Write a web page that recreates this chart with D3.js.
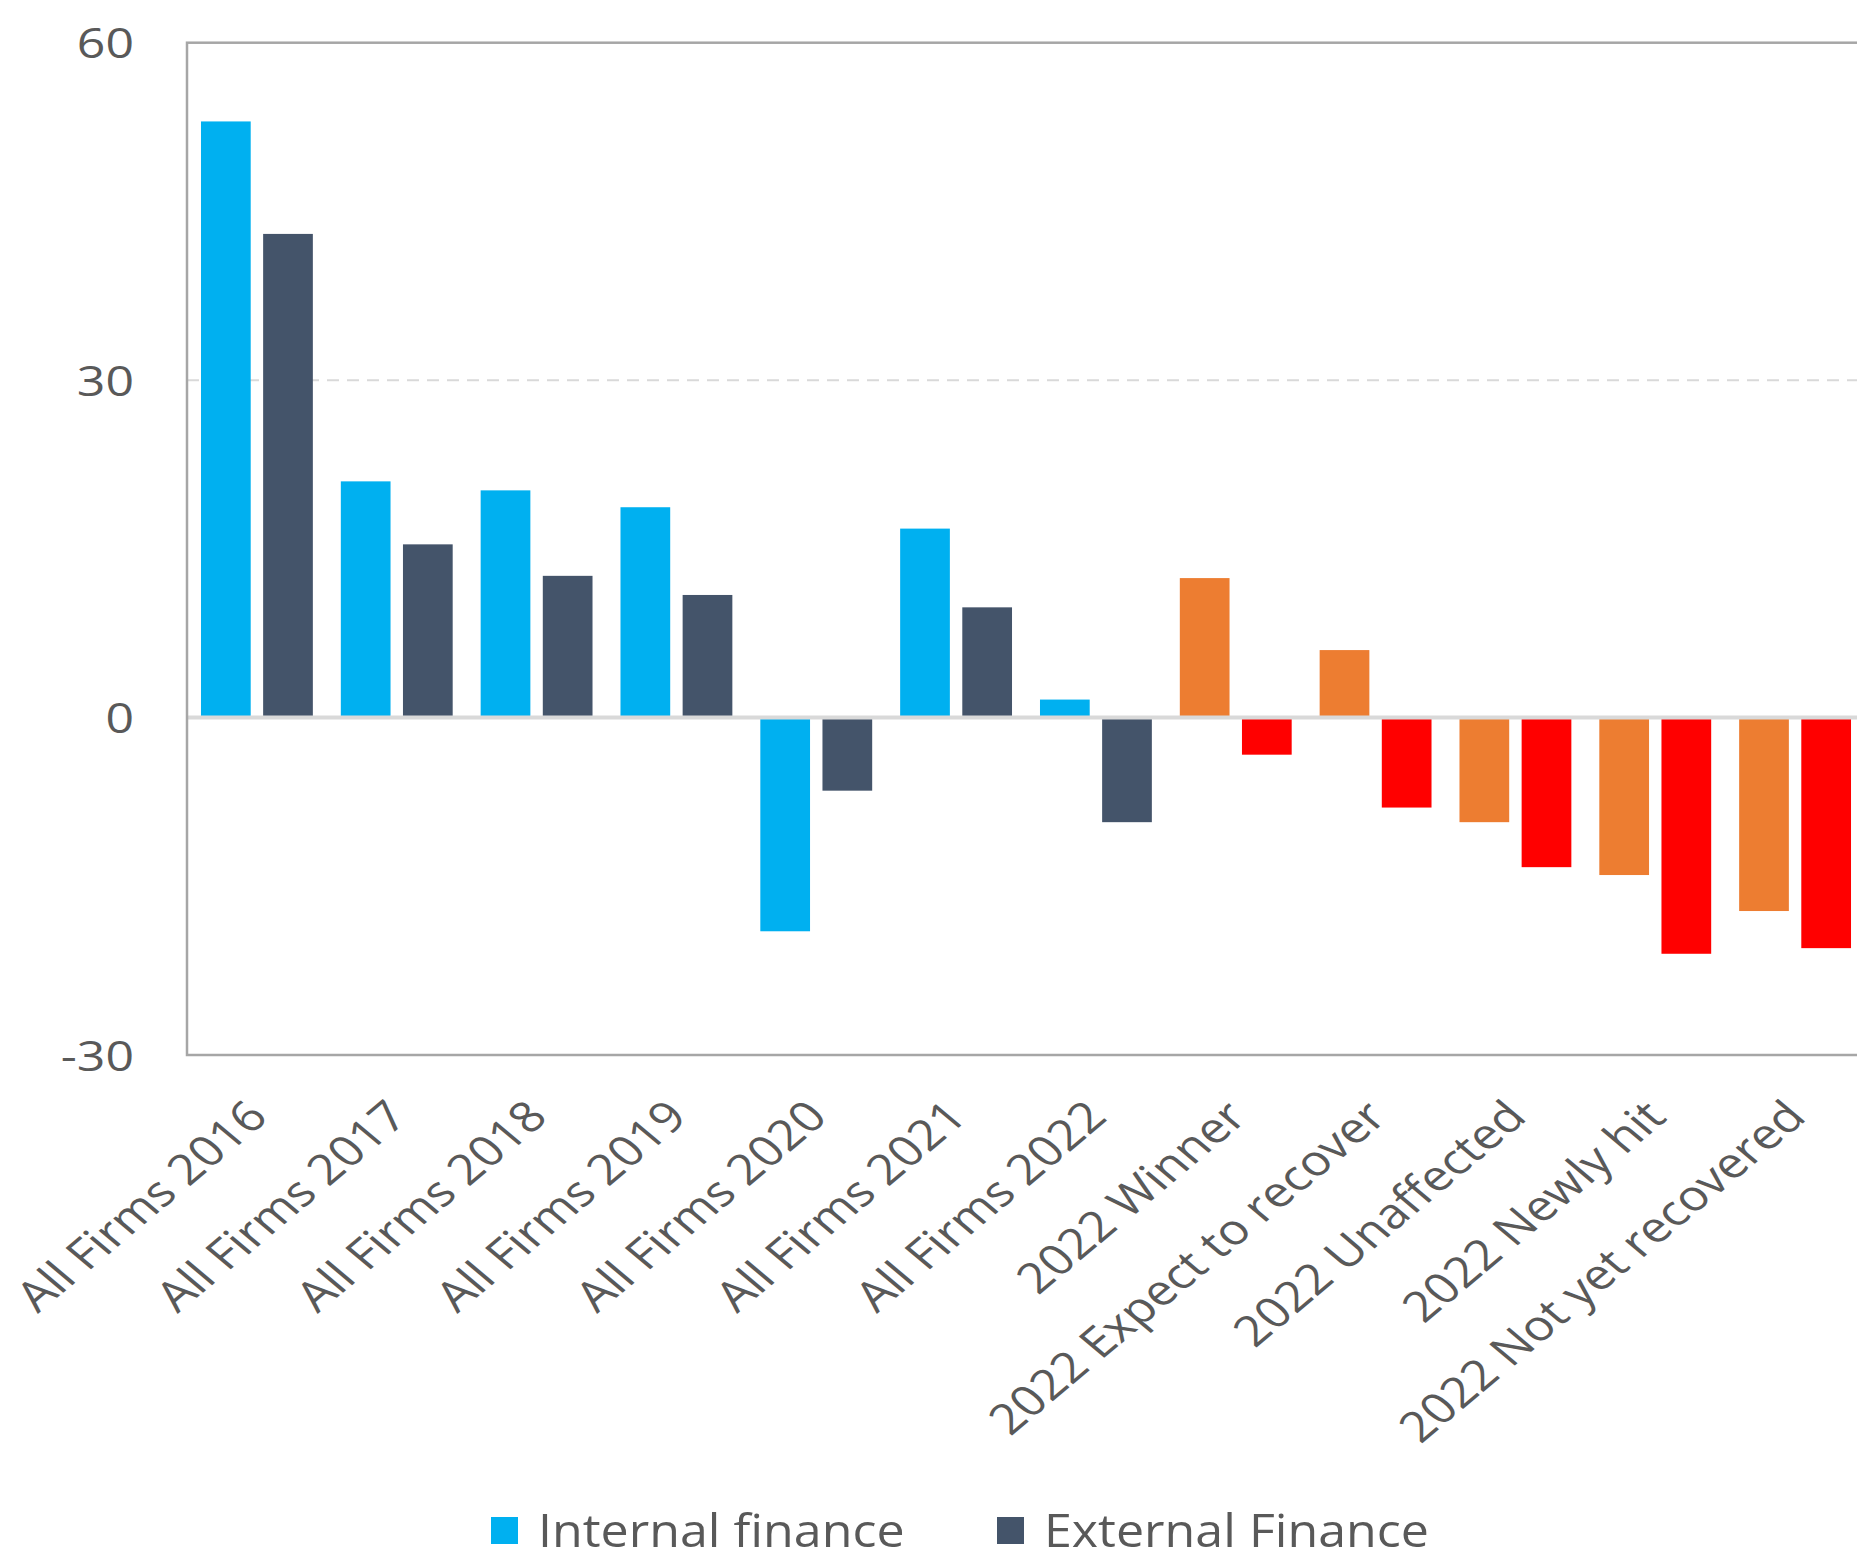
<!DOCTYPE html>
<html>
<head>
<meta charset="utf-8">
<script src="https://cdn.jsdelivr.net/npm/d3@7"></script>
<style>
  html, body { margin: 0; padding: 0; background: #fff; }
  svg { display: block; font-family: "Open Sans", sans-serif; }
</style>
</head>
<body>
<svg id="chart" width="1857" height="1563"></svg>
<script>
// Share of firms (net balance, %) by finance source
const categories = [
  "All Firms 2016", "All Firms 2017", "All Firms 2018", "All Firms 2019",
  "All Firms 2020", "All Firms 2021", "All Firms 2022", "2022 Winner",
  "2022 Expect to recover", "2022 Unaffected", "2022 Newly hit",
  "2022 Not yet recovered"
];
const internalFinance = [53, 21, 20.2, 18.7, -19, 16.8, 1.6, 12.4, 6, -9.3, -14, -17.2];
const externalFinance = [43, 15.4, 12.6, 10.9, -6.5, 9.8, -9.3, -3.3, -8, -13.3, -21, -20.5];
const seriesNames = ["Internal finance", "External Finance"];
const yTicks = [-30, 0, 30, 60];

// Layout
const W = 1857, H = 1563;
const plot = { left: 187, top: 42.7, right: 1865, bottom: 1055 };
const SX = 1.19;              // horizontal text stretch
const textColor = "#595959";

// Palette: the all-firm rows use blue/slate, the 2022 breakdown uses orange/red
const palette = {
  all:   { internal: "#00B0F0", external: "#44546A" },
  split: { internal: "#ED7D31", external: "#FF0000" }
};

const rows = categories.map((c, i) => ({
  category: c,
  kind: c.startsWith("All Firms") ? "all" : "split",
  internal: internalFinance[i],
  external: externalFinance[i]
}));

const svg = d3.select("#chart");
svg.append("rect").attr("width", W).attr("height", H).attr("fill", "#fff");

const x0 = d3.scaleBand()
  .domain(categories)
  .range([plot.left, plot.right])
  .paddingInner(0.2)
  .paddingOuter(0.1);

const x1 = d3.scaleBand()
  .domain(["internal", "external"])
  .range([0, x0.bandwidth()])
  .paddingInner(0.2);

const y = d3.scaleLinear().domain([-30, 60]).range([plot.bottom, plot.top]);

// Gridlines (inner ticks only)
svg.append("g")
  .selectAll("line")
  .data(yTicks.filter(t => t !== 0 && t !== -30 && t !== 60))
  .join("line")
  .attr("x1", plot.left).attr("x2", plot.right)
  .attr("y1", d => y(d)).attr("y2", d => y(d))
  .attr("stroke", "#D9D9D9")
  .attr("stroke-width", 2)
  .attr("stroke-dasharray", "12 8");

// Bars
const groups = svg.append("g")
  .selectAll("g")
  .data(rows)
  .join("g")
  .attr("transform", d => `translate(${x0(d.category)},0)`);

groups.selectAll("rect")
  .data(d => ["internal", "external"].map(k => ({ key: k, value: d[k], kind: d.kind })))
  .join("rect")
  .attr("x", d => x1(d.key))
  .attr("width", x1.bandwidth())
  .attr("y", d => y(Math.max(0, d.value)))
  .attr("height", d => Math.abs(y(d.value) - y(0)))
  .attr("fill", d => palette[d.kind][d.key]);

// Zero axis line
svg.append("line")
  .attr("x1", plot.left).attr("x2", plot.right)
  .attr("y1", y(0)).attr("y2", y(0))
  .attr("stroke", "#D9D9D9")
  .attr("stroke-width", 4);

// Plot frame
svg.append("rect")
  .attr("x", plot.left).attr("y", plot.top)
  .attr("width", plot.right - plot.left)
  .attr("height", plot.bottom - plot.top)
  .attr("fill", "none")
  .attr("stroke", "#A6A6A6")
  .attr("stroke-width", 2.5);

// Y axis labels (plain hyphen for negatives)
const yAxis = svg.append("g")
  .attr("transform", `translate(${plot.left},0)`)
  .call(d3.axisLeft(y).tickValues(yTicks).tickFormat(d => String(d)).tickSize(0).tickPadding(0));
yAxis.select(".domain").remove();
yAxis.selectAll("text")
  .attr("x", null)
  .attr("dy", "0.36em")
  .attr("transform", `translate(-53,0) scale(${SX},1)`)
  .attr("font-family", "'Open Sans', sans-serif")
  .attr("font-size", 42)
  .attr("fill", textColor);

// X axis category labels
const xAxis = svg.append("g")
  .attr("transform", `translate(0,${plot.bottom})`)
  .call(d3.axisBottom(x0).tickSize(0).tickPadding(0));
xAxis.select(".domain").remove();
xAxis.selectAll("text")
  .attr("y", null)
  .attr("dy", null)
  .attr("text-anchor", "end")
  .attr("transform", `translate(13,64) scale(${SX},1) rotate(-45)`)
  .attr("font-family", "'Open Sans', sans-serif")
  .attr("font-size", 42.3)
  .attr("fill", textColor);

// Legend
const legendItems = [
  { name: seriesNames[0], color: palette.all.internal, x: 491 },
  { name: seriesNames[1], color: palette.all.external, x: 997 }
];
const legend = svg.append("g")
  .selectAll("g")
  .data(legendItems)
  .join("g")
  .attr("transform", d => `translate(${d.x},1517)`);
legend.append("rect")
  .attr("width", 27).attr("height", 27)
  .attr("fill", d => d.color);
legend.append("text")
  .attr("transform", `translate(47,13.5) scale(${SX - 0.1},1)`)
  .attr("dy", "0.36em")
  .attr("font-size", 46)
  .attr("fill", textColor)
  .text(d => d.name);
</script>
</body>
</html>
